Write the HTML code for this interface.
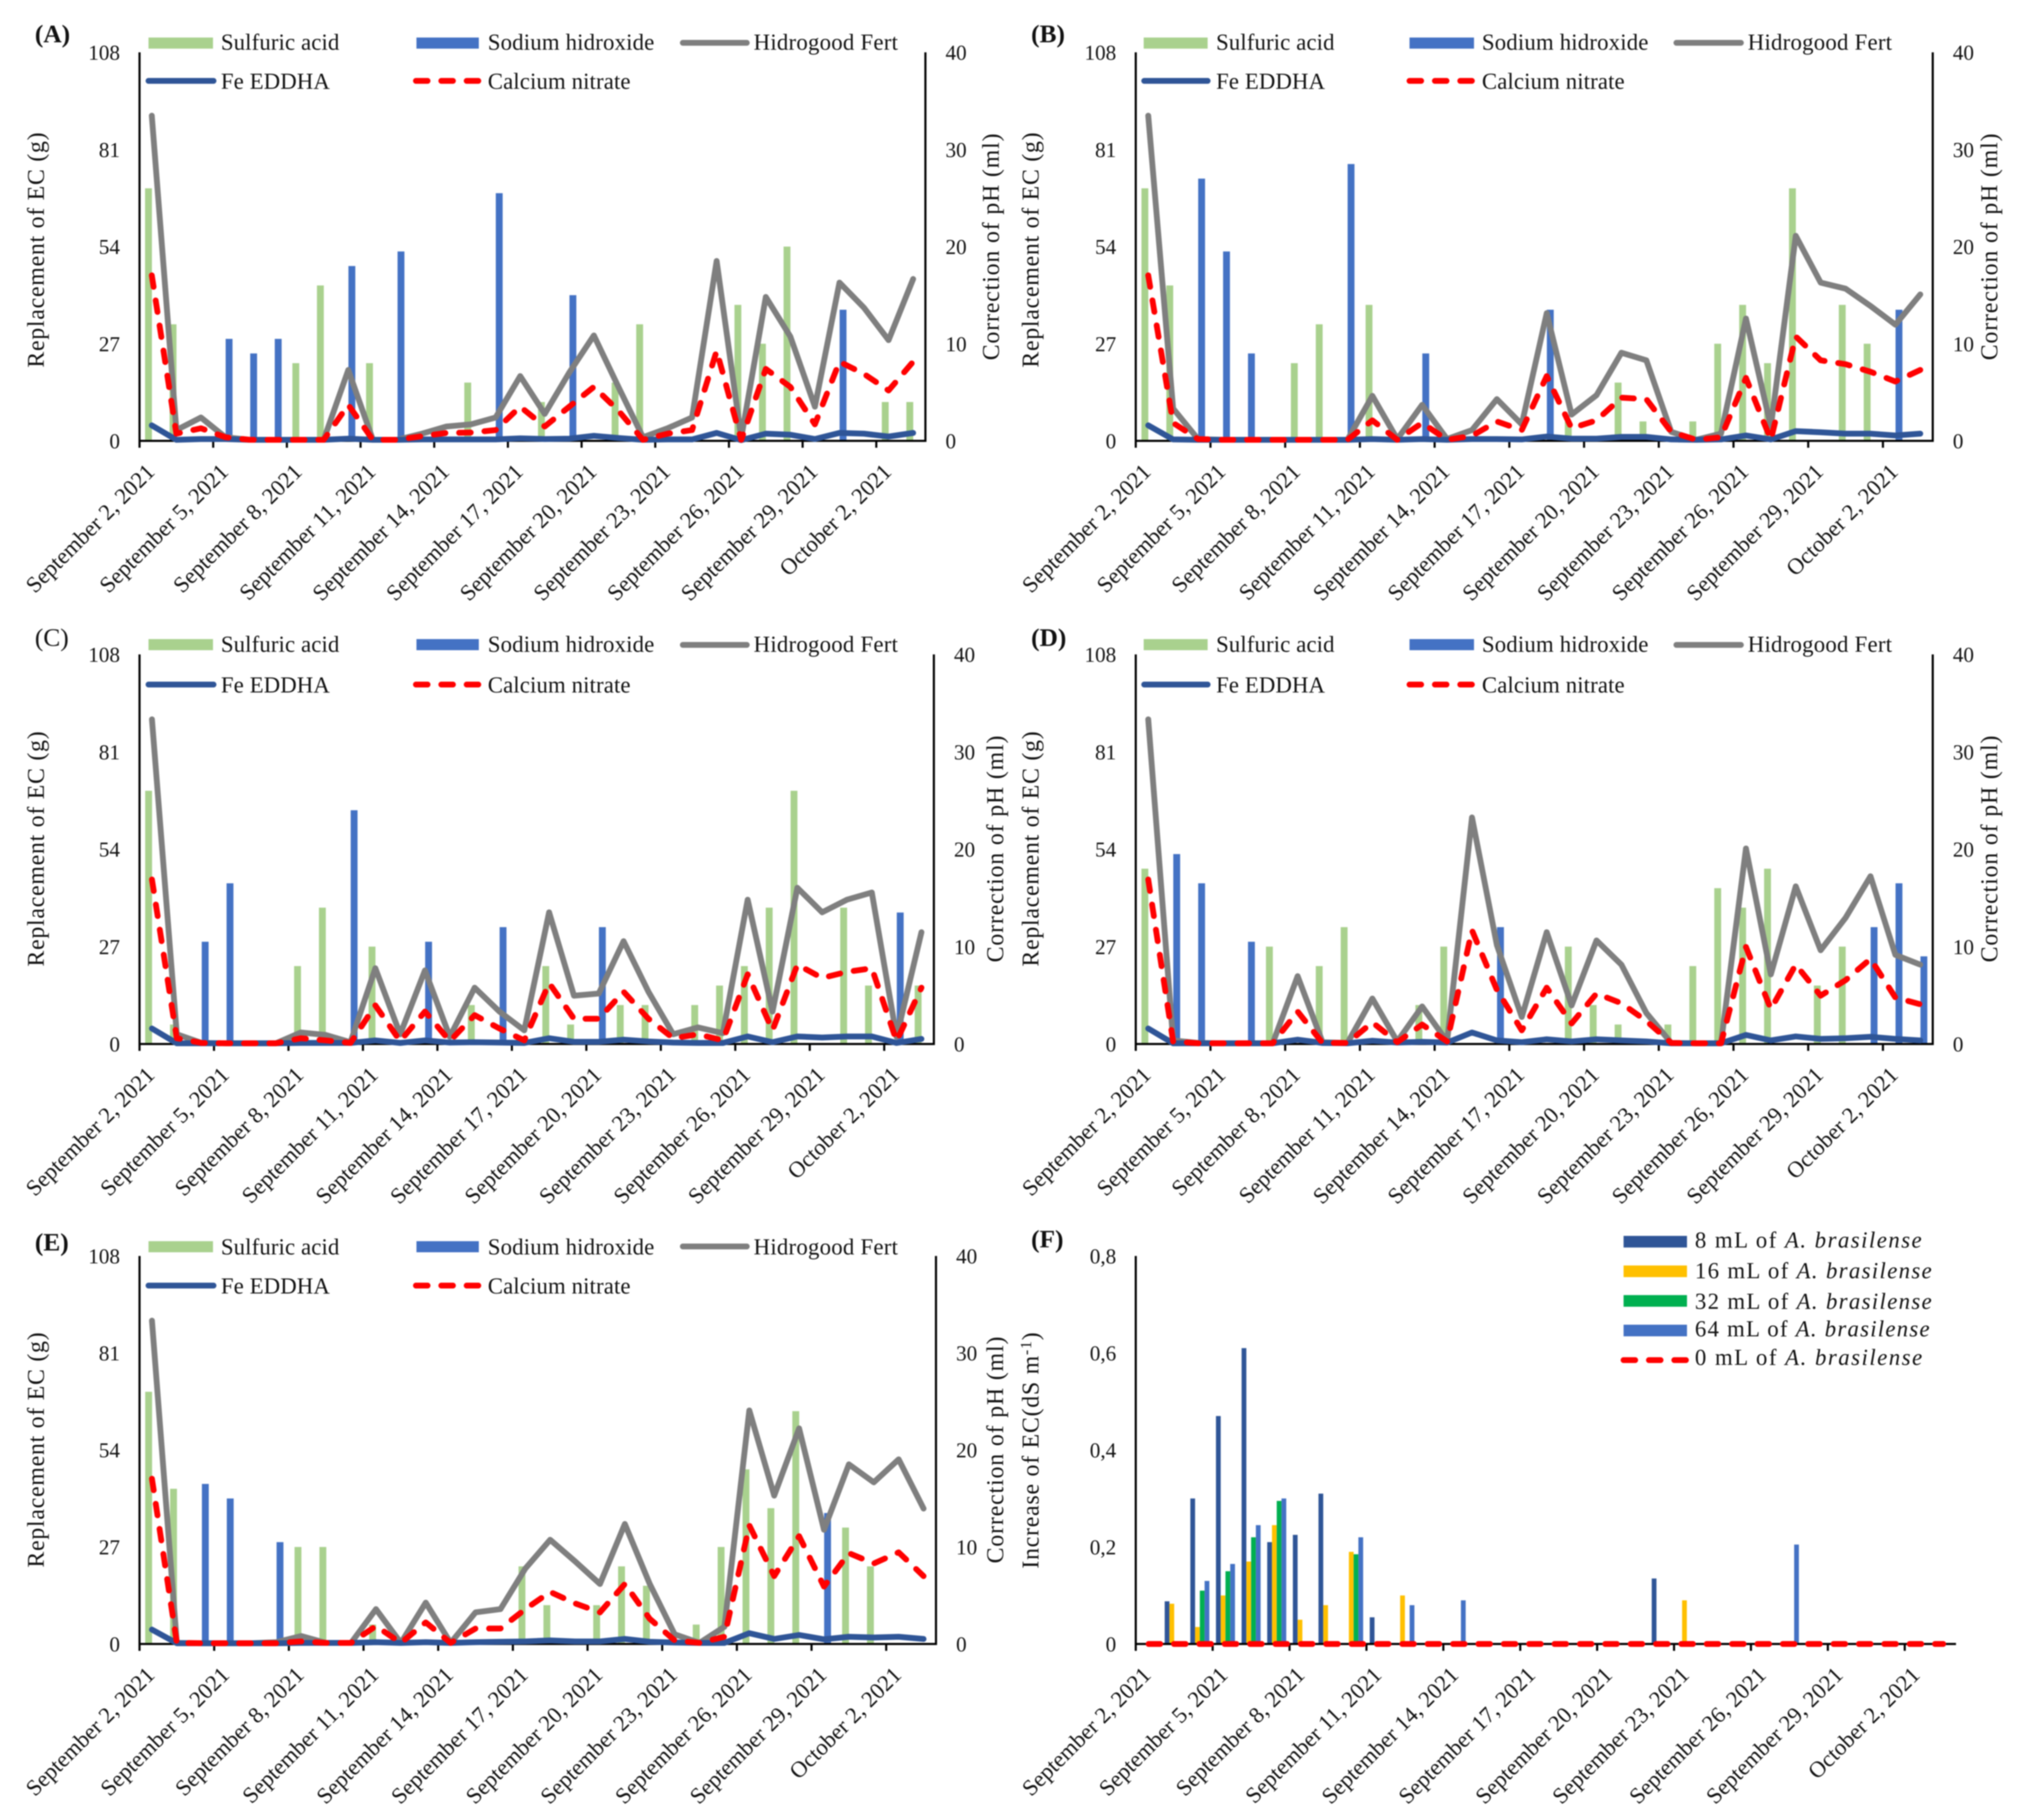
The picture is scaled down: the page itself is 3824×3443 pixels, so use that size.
<!DOCTYPE html>
<html lang="en">
<head>
<meta charset="utf-8">
<title>Replacement of EC and correction of pH by A. brasilense dose</title>
<style>
html,body{margin:0;padding:0;background:#fff;}
svg{display:block;filter:blur(1.1px);}
text{font-family:"Liberation Serif","DejaVu Serif",serif;fill:#111;}
.leg{font-size:43px;}
.panel-label{font-size:48px;font-weight:bold;}
.axis-title{font-size:45px;}
.tick{font-size:40px;}
.date{font-size:43px;}
</style>
</head>
<body>
<svg id="fig" xmlns="http://www.w3.org/2000/svg" width="3824" height="3443" viewBox="0 0 3824 3443">
<rect width="3824" height="3443" fill="#fff"/>

<!-- PANEL A -->
<g id="panel-a">
  <g id="marks-a"></g>
  <text class="panel-label" x="66" y="80">(A)</text>
  <text class="axis-title" transform="translate(83,473) rotate(-90)" text-anchor="middle" textLength="445" lengthAdjust="spacing">Replacement of EC (g)</text>
  <text class="axis-title" transform="translate(1890,467) rotate(-90)" text-anchor="middle" textLength="429" lengthAdjust="spacing">Correction of pH (ml)</text>
  <g>
    <g><rect x="281" y="71" width="122" height="21" fill="#a9d18e"/><text class="leg" x="418" y="94" textLength="224">Sulfuric acid</text></g>
    <g><rect x="788" y="71" width="118" height="21" fill="#4472c4"/><text class="leg" x="923" y="94" textLength="315">Sodium hidroxide</text></g>
    <g><line x1="1292" x2="1413" y1="81" y2="81" stroke="#7f7f7f" stroke-width="11" stroke-linecap="round"/><text class="leg" x="1426" y="94" textLength="273">Hidrogood Fert</text></g>
    <g><line x1="281" x2="404" y1="153" y2="153" stroke="#2f5597" stroke-width="11" stroke-linecap="round"/><text class="leg" x="418" y="168" textLength="206">Fe EDDHA</text></g>
    <g><line x1="787" x2="906" y1="153" y2="153" stroke="#ff0000" stroke-width="11" stroke-linecap="round" stroke-dasharray="22 26"/><text class="leg" x="923" y="168" textLength="270">Calcium nitrate</text></g>
  </g>
</g>

<!-- PANEL B -->
<g id="panel-b">
  <g id="marks-b"></g>
  <text class="panel-label" x="1951" y="80">(B)</text>
  <text class="axis-title" transform="translate(1965,473) rotate(-90)" text-anchor="middle" textLength="445" lengthAdjust="spacing">Replacement of EC (g)</text>
  <text class="axis-title" transform="translate(3779,467) rotate(-90)" text-anchor="middle" textLength="429" lengthAdjust="spacing">Correction of pH (ml)</text>
  <g transform="translate(1881,0)">
    <g><rect x="283" y="71" width="121" height="21" fill="#a9d18e"/><text class="leg" x="420" y="94" textLength="224">Sulfuric acid</text></g>
    <g><rect x="786" y="71" width="122" height="21" fill="#4472c4"/><text class="leg" x="923" y="94" textLength="315">Sodium hidroxide</text></g>
    <g><line x1="1291" x2="1413" y1="81" y2="81" stroke="#7f7f7f" stroke-width="11" stroke-linecap="round"/><text class="leg" x="1426" y="94" textLength="273">Hidrogood Fert</text></g>
    <g><line x1="284" x2="404" y1="153" y2="153" stroke="#2f5597" stroke-width="11" stroke-linecap="round"/><text class="leg" x="420" y="168" textLength="206">Fe EDDHA</text></g>
    <g><line x1="786" x2="908" y1="153" y2="153" stroke="#ff0000" stroke-width="11" stroke-linecap="round" stroke-dasharray="22 26"/><text class="leg" x="923" y="168" textLength="270">Calcium nitrate</text></g>
  </g>
</g>

<!-- PANEL C -->
<g id="panel-c">
  <g id="marks-c"></g>
  <text class="panel-label" x="66" y="1222" style="font-weight:normal">(C)</text>
  <text class="axis-title" transform="translate(83,1606) rotate(-90)" text-anchor="middle" textLength="445" lengthAdjust="spacing">Replacement of EC (g)</text>
  <text class="axis-title" transform="translate(1898,1606) rotate(-90)" text-anchor="middle" textLength="429" lengthAdjust="spacing">Correction of pH (ml)</text>
  <g>
    <g><rect x="281" y="1209" width="122" height="21" fill="#a9d18e"/><text class="leg" x="418" y="1233" textLength="224">Sulfuric acid</text></g>
    <g><rect x="788" y="1209" width="118" height="21" fill="#4472c4"/><text class="leg" x="923" y="1233" textLength="315">Sodium hidroxide</text></g>
    <g><line x1="1292" x2="1413" y1="1220" y2="1220" stroke="#7f7f7f" stroke-width="11" stroke-linecap="round"/><text class="leg" x="1426" y="1233" textLength="273">Hidrogood Fert</text></g>
    <g><line x1="281" x2="404" y1="1295" y2="1295" stroke="#2f5597" stroke-width="11" stroke-linecap="round"/><text class="leg" x="418" y="1310" textLength="206">Fe EDDHA</text></g>
    <g><line x1="787" x2="906" y1="1295" y2="1295" stroke="#ff0000" stroke-width="11" stroke-linecap="round" stroke-dasharray="22 26"/><text class="leg" x="923" y="1310" textLength="270">Calcium nitrate</text></g>
  </g>
</g>

<!-- PANEL D -->
<g id="panel-d">
  <g id="marks-d"></g>
  <text class="panel-label" x="1951" y="1222">(D)</text>
  <text class="axis-title" transform="translate(1965,1606) rotate(-90)" text-anchor="middle" textLength="445" lengthAdjust="spacing">Replacement of EC (g)</text>
  <text class="axis-title" transform="translate(3779,1606) rotate(-90)" text-anchor="middle" textLength="429" lengthAdjust="spacing">Correction of pH (ml)</text>
  <g transform="translate(1881,0)">
    <g><rect x="283" y="1209" width="121" height="21" fill="#a9d18e"/><text class="leg" x="420" y="1233" textLength="224">Sulfuric acid</text></g>
    <g><rect x="786" y="1209" width="122" height="21" fill="#4472c4"/><text class="leg" x="923" y="1233" textLength="315">Sodium hidroxide</text></g>
    <g><line x1="1291" x2="1413" y1="1220" y2="1220" stroke="#7f7f7f" stroke-width="11" stroke-linecap="round"/><text class="leg" x="1426" y="1233" textLength="273">Hidrogood Fert</text></g>
    <g><line x1="284" x2="404" y1="1295" y2="1295" stroke="#2f5597" stroke-width="11" stroke-linecap="round"/><text class="leg" x="420" y="1310" textLength="206">Fe EDDHA</text></g>
    <g><line x1="786" x2="908" y1="1295" y2="1295" stroke="#ff0000" stroke-width="11" stroke-linecap="round" stroke-dasharray="22 26"/><text class="leg" x="923" y="1310" textLength="270">Calcium nitrate</text></g>
  </g>
</g>

<!-- PANEL E -->
<g id="panel-e">
  <g id="marks-e"></g>
  <text class="panel-label" x="66" y="2366">(E)</text>
  <text class="axis-title" transform="translate(83,2743) rotate(-90)" text-anchor="middle" textLength="445" lengthAdjust="spacing">Replacement of EC (g)</text>
  <text class="axis-title" transform="translate(1898,2743) rotate(-90)" text-anchor="middle" textLength="429" lengthAdjust="spacing">Correction of pH (ml)</text>
  <g>
    <g><rect x="281" y="2348" width="122" height="21" fill="#a9d18e"/><text class="leg" x="418" y="2373" textLength="224">Sulfuric acid</text></g>
    <g><rect x="788" y="2348" width="118" height="21" fill="#4472c4"/><text class="leg" x="923" y="2373" textLength="315">Sodium hidroxide</text></g>
    <g><line x1="1292" x2="1413" y1="2358" y2="2358" stroke="#7f7f7f" stroke-width="11" stroke-linecap="round"/><text class="leg" x="1426" y="2373" textLength="273">Hidrogood Fert</text></g>
    <g><line x1="281" x2="404" y1="2432" y2="2432" stroke="#2f5597" stroke-width="11" stroke-linecap="round"/><text class="leg" x="418" y="2447" textLength="206">Fe EDDHA</text></g>
    <g><line x1="787" x2="906" y1="2432" y2="2432" stroke="#ff0000" stroke-width="11" stroke-linecap="round" stroke-dasharray="22 26"/><text class="leg" x="923" y="2447" textLength="270">Calcium nitrate</text></g>
  </g>
</g>

<!-- PANEL F -->
<g id="panel-f">
  <g id="marks-f"></g>
  <text class="panel-label" x="1951" y="2360">(F)</text>
  <text class="axis-title" transform="translate(1965,2744) rotate(-90)" text-anchor="middle" textLength="447" lengthAdjust="spacing">Increase of EC(dS m<tspan dy="-14" font-size="30">-1</tspan><tspan dy="14">)</tspan></text>
  <g>
    <g><rect x="3072" y="2338" width="120" height="22" fill="#2f5597"/><text class="leg" x="3207" y="2360" textLength="429">8  mL of <tspan font-style="italic">A.  brasilense</tspan></text></g>
    <g><rect x="3072" y="2394" width="120" height="22" fill="#ffc000"/><text class="leg" x="3207" y="2418" textLength="448">16  mL of <tspan font-style="italic">A.  brasilense</tspan></text></g>
    <g><rect x="3072" y="2450" width="120" height="22" fill="#00b050"/><text class="leg" x="3207" y="2476" textLength="448">32  mL of <tspan font-style="italic">A.  brasilense</tspan></text></g>
    <g><rect x="3072" y="2506" width="120" height="22" fill="#4472c4"/><text class="leg" x="3207" y="2528" textLength="444">64  mL of <tspan font-style="italic">A.  brasilense</tspan></text></g>
    <g><line x1="3072" x2="3192" y1="2573" y2="2573" stroke="#ff0000" stroke-width="11" stroke-linecap="round" stroke-dasharray="22 26"/><text class="leg" x="3207" y="2582" textLength="430">0  mL of <tspan font-style="italic">A.  brasilense</tspan></text></g>
  </g>
</g>
</svg>

<script>
const dateLabels = ["September 2, 2021","September 5, 2021","September 8, 2021","September 11, 2021","September 14, 2021","September 17, 2021","September 20, 2021","September 23, 2021","September 26, 2021","September 29, 2021","October 2, 2021"];
const ticksLeft = [0,27,54,81,108];
const ticksRight = [0,10,20,30,40];
const ticksF = ["0","0,2","0,4","0,6","0,8"];
const ticksFValues = [0,0.2,0.4,0.6,0.8];

// Panel A
const sulfuricA = [26,12,0,0,0,0,8,16,0,8,0,0,0,6,0,0,4,0,0,6,12,0,0,0,14,10,20,0,0,0,4,4];
const sodiumA = [0,0,0,10.5,9,10.5,0,0,18,0,19.5,0,0,0,25.5,0,0,15,0,0,0,0,0,0,0,0,0,0,13.5,0,0,0];
const hidrogoodA = [90.4,3,6.5,1,0.3,0.3,0.3,0.3,19.7,0.3,0.3,2,4,4.6,6.5,18,7.5,19,29.3,15,1,3.5,6.5,50,0.8,40,29,9.5,44,37,28,45];
const feA = [4.3,0.3,0.5,0.5,0.3,0.3,0.3,0.3,0.6,0.3,0.3,0.4,0.4,0.4,0.4,0.7,0.5,0.6,1.4,0.8,0.3,0.4,0.4,2.2,0.2,2,1.7,0.5,2.2,2,1.2,2.2];
const calciumA = [46,2,3.5,1,0.3,0.3,0.3,0.3,10,0.3,0.3,1.3,2.2,2.3,3,9.5,4,9.5,15,8.4,0.3,2,3,25,0.3,20,15,4.6,22,18.6,14,22];

// Panel B
const sulfuricB = [26,16,0,0,0,0,8,12,0,14,0,0,0,0,0,0,0,2,0,6,2,0,2,10,14,8,26,0,14,10,0,0];
const sodiumB = [0,0,27,19.5,9,0,0,0,28.5,0,0,9,0,0,0,0,13.5,0,0,0,0,0,0,0,0,0,0,0,0,0,13.5,0];
const hidrogoodB = [90.4,9,0.5,0.3,0.3,0.3,0.3,0.3,0.3,12.5,0.5,10,0.5,3,11.6,4.6,35.5,7.3,12.7,24.5,22.4,2.5,0.3,2,34,4,57,44,42.3,37.5,32.3,40.7];
const feB = [4.3,0.4,0.3,0.3,0.3,0.3,0.3,0.3,0.3,0.5,0.3,0.5,0.3,0.5,0.5,0.4,1.2,0.6,0.6,1.1,1.1,0.4,0.3,0.4,1.5,0.4,2.7,2.4,2,2,1.5,2];
const calciumB = [46,5,0.5,0.3,0.3,0.3,0.3,0.3,0.3,5.7,0.3,5,0.3,1.4,5.4,3,18,3.5,5.7,12,11.6,2.5,0.3,1,17.5,0.3,29,22.4,21.3,19.2,16.5,19.7];

// Panel C
const sulfuricC = [26,2,0,0,0,0,8,14,0,10,0,0,0,4,0,0,8,2,0,4,4,0,4,6,8,14,26,0,14,6,0,6];
const sodiumC = [0,0,10.5,16.5,0,0,0,0,24,0,0,10.5,0,0,12,0,0,0,12,0,0,0,0,0,0,0,0,0,0,0,13.5,0];
const hidrogoodC = [90,2.7,0.3,0.2,0.2,0.2,3.2,2.5,0.5,21,2.7,20.4,2,15.6,9,3.8,36.5,13.4,14,28.5,14.5,2.7,4.6,3,40,9,43.3,36.5,40,42,2,31];
const feC = [4.3,0.2,0.2,0.2,0.2,0.2,0.3,0.3,0.3,1,0.3,1,0.4,0.5,0.4,0.3,1.6,0.6,0.6,1.2,0.7,0.4,0.3,0.3,2.1,0.5,2.1,1.8,2.1,2.1,0.3,1.4];
const calciumC = [45.6,1.6,0.3,0.2,0.2,0.2,1.6,1,0.3,10.7,0.8,9,0.8,8,4.3,1,16.9,7,7,14.5,7,1.6,2.7,1,19.3,3.8,22,18.3,20,21,0.8,15.6];

// Panel D
const sulfuricD = [18,0,0,0,0,10,0,8,12,0,0,4,10,0,0,0,0,10,4,2,0,2,8,16,14,18,0,6,10,0,0,0];
const sodiumD = [0,19.5,16.5,0,10.5,0,0,0,0,0,0,0,0,0,12,0,0,0,0,0,0,0,0,0,0,0,0,0,0,12,16.5,9];
const hidrogoodD = [90,1,0.3,0.2,0.2,0.2,18.8,0.5,0.3,12.6,0.7,10.4,0.7,62.8,27.4,7.5,31,10.7,28.7,22,8.6,0.3,0.2,0.2,54.2,19.3,43.7,26,35,46.5,24.7,22];
const feD = [4.3,0.2,0.2,0.2,0.2,0.2,1.2,0.3,0.2,0.9,0.4,0.6,0.4,3.2,1,0.5,1.3,0.7,1.3,1,0.7,0.2,0.2,0.2,2.5,1,2.1,1.4,1.6,2,1.4,1];
const calciumD = [45.6,0.7,0.2,0.2,0.2,0.2,9,0.3,0.3,6,0.5,5.4,0.7,31.5,15,3.8,15.6,5.7,14,11.3,6.4,0.3,0.2,0.2,26.9,9.7,22,13.4,17.7,23.6,12.9,11];

// Panel E
const sulfuricE = [26,16,0,0,0,0,10,10,0,2,0,0,0,0,0,8,4,0,4,8,6,0,2,10,18,14,24,0,12,8,0,0];
const sodiumE = [0,0,16.5,15,0,10.5,0,0,0,0,0,0,0,0,0,0,0,0,0,0,0,0,0,0,0,0,0,13.5,0,0,0,0];
const hidrogoodE = [90,0.3,0.2,0.2,0.2,0.5,2.2,0.3,0.3,9.7,0.3,11.5,0.3,8.8,9.7,21,29,23,16.7,33.4,16.7,2.7,0.3,4.8,65,41.3,60,31.8,50,45,51.4,37.7];
const feE = [4,0.2,0.2,0.2,0.2,0.2,0.3,0.3,0.3,0.5,0.3,0.5,0.3,0.5,0.6,0.7,1,0.7,0.7,1.4,0.6,0.4,0.3,0.3,3,1.4,2.5,1.3,2,1.8,2,1.4];
const calciumE = [46,0.3,0.2,0.2,0.2,0.2,0.7,0.3,0.3,5,0.3,6,0.3,4.3,4.3,9.7,14.5,11.3,8.8,16.7,7,1,0.3,2,33,18.9,30,16,25.3,22.4,25.5,18.9];

// Panel F
const ml8 = [0,0.088,0.3,0.47,0.61,0.21,0.225,0.31,0,0.055,0,0,0,0,0,0,0,0,0,0,0.135,0,0,0,0,0,0,0,0,0,0,0];
const ml16 = [0,0.083,0.035,0.1,0.17,0.245,0.05,0.08,0.19,0,0.1,0,0,0,0,0,0,0,0,0,0,0.09,0,0,0,0,0,0,0,0,0,0];
const ml32 = [0,0,0.11,0.15,0.22,0.295,0,0,0.185,0,0,0,0,0,0,0,0,0,0,0,0,0,0,0,0,0,0,0,0,0,0,0];
const ml64 = [0,0,0.13,0.165,0.245,0.3,0,0,0.22,0,0.08,0,0.09,0,0,0,0,0,0,0,0,0,0,0,0,0.205,0,0,0,0,0,0];
const ml0 = [0,0,0,0,0,0,0,0,0,0,0,0,0,0,0,0,0,0,0,0,0,0,0,0,0,0,0,0,0,0,0,0];

const SVGNS = 'http://www.w3.org/2000/svg';
const CAT_COUNT = ml0.length;

function make(tag, parent, attrs) {
  const el = document.createElementNS(SVGNS, tag);
  for (const k in attrs) el.setAttribute(k, attrs[k]);
  parent.appendChild(el);
  return el;
}
function xCenter(box, i) { return box.left + (box.right - box.left) * (i + 0.5) / CAT_COUNT; }
function yValue(box, v, max) { return box.bottom - (box.bottom - box.top) * v / max; }

function drawBars(g, box, values, max, color, offset, width, seriesName) {
  values.forEach(function (v, i) {
    if (!v) return;
    const y = yValue(box, v, max);
    const rect = make('rect', g, { x: xCenter(box, i) + offset - width / 2, y: y, width: width, height: box.bottom - y, fill: color });
    
    
  });
}
function drawLine(g, box, values, max, color, dash, seriesName) {
  const d = values.map(function (v, i) { return (i ? 'L' : 'M') + xCenter(box, i).toFixed(1) + ' ' + yValue(box, v, max).toFixed(1); }).join(' ');
  const path = make('path', g, { d: d, fill: 'none', stroke: color, 'stroke-width': 11, 'stroke-linejoin': 'round', 'stroke-linecap': 'round' });
  if (dash) path.setAttribute('stroke-dasharray', dash);
  
  
}
function drawDateAxis(g, box, axisEnd) {
  const axis = make('line', g, { x1: box.left, x2: axisEnd, y1: box.bottom, y2: box.bottom, stroke: '#000', 'stroke-width': 4 });
  
  
  const step = (box.right - box.left) * 3 / CAT_COUNT;
  dateLabels.forEach(function (label, k) {
    const x = box.left + k * step;
    const tick = make('line', g, { x1: x, x2: x, y1: box.bottom, y2: box.bottom + 13, stroke: '#000', 'stroke-width': 4 });
    
    
    const lx = x + 31;
    const ly = box.bottom + 61;
    const t = make('text', g, { class: 'date', 'text-anchor': 'end', transform: 'translate(' + lx + ',' + ly + ') rotate(-45)' });
    t.textContent = label;
    
    
  });
}
function drawYAxis(g, box, x, labelX, anchor, labels, values, max, axisName) {
  const axis = make('line', g, { x1: x, x2: x, y1: box.top, y2: box.bottom + 2, stroke: '#000', 'stroke-width': 4 });
  
  
  labels.forEach(function (label, k) {
    const t = make('text', g, { class: 'tick', x: labelX, y: yValue(box, values[k], max) + 14, 'text-anchor': anchor });
    t.textContent = label;
    
    
  });
}
function drawChemPanel(id, box, sulfuric, sodium, hidrogood, fe, calcium) {
  const g = document.getElementById(id);
  drawBars(g, box, sulfuric, 40, '#a9d18e', -6.3, 13, 'sulfuric-acid');
  drawBars(g, box, sodium, 40, '#4472c4', 6.8, 13, 'sodium-hidroxide');
  drawDateAxis(g, box, box.right);
  drawLine(g, box, hidrogood, 108, '#7f7f7f', null, 'hidrogood-fert');
  drawLine(g, box, fe, 108, '#2f5597', null, 'fe-eddha');
  drawLine(g, box, calcium, 108, '#ff0000', '22 26', 'calcium-nitrate');
  drawYAxis(g, box, box.left, box.left - 37, 'end', ticksLeft, ticksLeft, 108, 'y-axis-left');
  drawYAxis(g, box, box.right, box.right + 38, 'start', ticksRight, ticksRight, 40, 'y-axis-right');
}

drawChemPanel('marks-a', { left: 264, right: 1751, top: 99, bottom: 834 }, sulfuricA, sodiumA, hidrogoodA, feA, calciumA);
drawChemPanel('marks-b', { left: 2149, right: 3657, top: 99, bottom: 834 }, sulfuricB, sodiumB, hidrogoodB, feB, calciumB);
drawChemPanel('marks-c', { left: 264, right: 1767, top: 1238, bottom: 1975 }, sulfuricC, sodiumC, hidrogoodC, feC, calciumC);
drawChemPanel('marks-d', { left: 2149, right: 3657, top: 1238, bottom: 1975 }, sulfuricD, sodiumD, hidrogoodD, feD, calciumD);
drawChemPanel('marks-e', { left: 264, right: 1771, top: 2376, bottom: 3110 }, sulfuricE, sodiumE, hidrogoodE, feE, calciumE);

(function () {
  const g = document.getElementById('marks-f');
  const box = { left: 2149, right: 3701, top: 2376, bottom: 3110 };
  drawBars(g, box, ml8, 0.8, '#2f5597', -13.5, 9, 'ml-8');
  drawBars(g, box, ml16, 0.8, '#ffc000', -4.5, 9, 'ml-16');
  drawBars(g, box, ml32, 0.8, '#00b050', 4.5, 9, 'ml-32');
  drawBars(g, box, ml64, 0.8, '#4472c4', 13.5, 9, 'ml-64');
  drawDateAxis(g, box, box.right);
  drawLine(g, box, ml0, 0.8, '#ff0000', '22 26', 'ml-0');
  drawYAxis(g, box, box.left, box.left - 37, 'end', ticksF, ticksFValues, 0.8, 'y-axis-left');
})();
</script>
</body>
</html>
